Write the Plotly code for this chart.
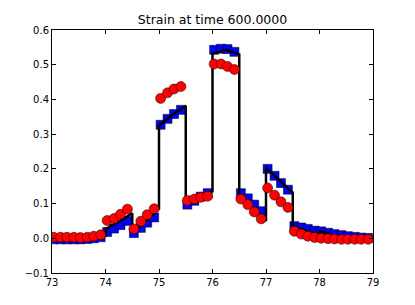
import plotly.graph_objects as go

# sample positions (4 per element of width 0.5)
x_pts = [73.03, 73.16, 73.28, 73.41, 73.53, 73.66, 73.78, 73.91,
         74.03, 74.16, 74.28, 74.41, 74.53, 74.66, 74.78, 74.91,
         75.03, 75.16, 75.28, 75.41, 75.53, 75.66, 75.78, 75.91,
         76.03, 76.16, 76.28, 76.41, 76.53, 76.66, 76.78, 76.91,
         77.03, 77.16, 77.28, 77.41, 77.53, 77.66, 77.78, 77.91,
         78.03, 78.16, 78.28, 78.41, 78.53, 78.66, 78.78, 78.91]

blue_vals = [-0.003, -0.003, -0.003, -0.003, -0.003, -0.002, 0.0, 0.003,
             0.018, 0.028, 0.038, 0.05, 0.015, 0.03, 0.045, 0.06,
             0.327, 0.344, 0.358, 0.37, 0.097, 0.108, 0.12, 0.13,
             0.543, 0.546, 0.545, 0.537, 0.13, 0.115, 0.097, 0.078,
             0.2, 0.18, 0.159, 0.14, 0.035, 0.031, 0.027, 0.022,
             0.02, 0.016, 0.012, 0.009, 0.006, 0.004, 0.002, 0.001]

red_vals = [0.003, 0.003, 0.003, 0.003, 0.002, 0.003, 0.006, 0.01,
            0.051, 0.057, 0.069, 0.084, 0.027, 0.049, 0.068, 0.085,
            0.403, 0.419, 0.43, 0.437, 0.109, 0.113, 0.118, 0.121,
            0.502, 0.502, 0.495, 0.486, 0.113, 0.097, 0.076, 0.056,
            0.145, 0.124, 0.105, 0.089, 0.02, 0.012, 0.006, 0.002,
            0.0, -0.001, -0.002, -0.003, -0.003, -0.003, -0.003, -0.003]

# black piecewise line: start, middle, end of each element
line_x = [73.0, 73.25, 73.5, 73.5, 73.75, 74.0,
          74.0, 74.25, 74.5, 74.5, 74.75, 75.0,
          75.0, 75.25, 75.5, 75.5, 75.75, 76.0,
          76.0, 76.25, 76.5, 76.5, 76.75, 77.0,
          77.0, 77.25, 77.5, 77.5, 77.75, 78.0,
          78.0, 78.25, 78.5, 78.5, 78.75, 79.0]
line_y = [-0.002, -0.002, -0.001, -0.001, 0.002, 0.007,
          0.027, 0.048, 0.072, 0.014, 0.048, 0.085,
          0.325, 0.355, 0.382, 0.105, 0.12, 0.135,
          0.532, 0.543, 0.53, 0.13, 0.09, 0.05,
          0.203, 0.168, 0.132, 0.035, 0.022, 0.012,
          0.02, 0.01, 0.004, 0.003, 0.001, 0.0]

title_text = "Strain at time 600.0000"

fig = go.Figure()
fig.add_trace(go.Scatter(x=x_pts, y=blue_vals, mode="markers",
                         marker=dict(symbol="square", size=9, color="#0000ff",
                                     line=dict(color="black", width=0.5)),
                         showlegend=False))
fig.add_trace(go.Scatter(x=line_x, y=line_y, mode="lines",
                         line=dict(color="black", width=2.5),
                         showlegend=False))
fig.add_trace(go.Scatter(x=x_pts, y=red_vals, mode="markers",
                         marker=dict(symbol="circle", size=10, color="#ff0000",
                                     line=dict(color="black", width=0.5)),
                         showlegend=False))

axis_common = dict(showgrid=False, zeroline=False, showline=True, linecolor="black",
                   linewidth=1, mirror="ticks", ticks="inside", ticklen=4,
                   tickcolor="black", tickfont=dict(family="DejaVu Sans", size=10, color="black"))

fig.update_layout(
    width=407, height=297,
    margin=dict(l=44, r=42, t=22, b=32),
    paper_bgcolor="white", plot_bgcolor="white",
    title=dict(text=title_text, x=0.5, xanchor="center", xref="paper",
               y=0.96, yanchor="middle", yref="container",
               font=dict(family="DejaVu Sans", size=12.5, color="black")),
    xaxis=dict(range=[73, 79], dtick=1, tick0=73, **axis_common),
    yaxis=dict(range=[-0.1, 0.6], dtick=0.1, tick0=0, tickformat=".1f", **axis_common),
)

fig.write_html("out.html")
